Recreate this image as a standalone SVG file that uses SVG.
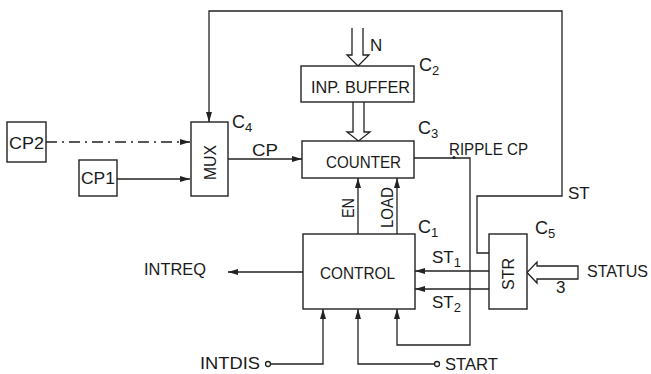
<svg xmlns="http://www.w3.org/2000/svg" width="651" height="374" viewBox="0 0 651 374">
<defs>
<style>
.b{fill:#fff;stroke:#222;stroke-width:1.4}
.l{fill:none;stroke:#222;stroke-width:1.3}
.t{font-family:"Liberation Sans",Arial,sans-serif;font-size:17px;fill:#1a1a1a}
.c{font-size:18px}
.s{font-size:13px}
</style>
<marker id="a" markerWidth="10" markerHeight="6" refX="10" refY="3" orient="auto" markerUnits="userSpaceOnUse">
<path d="M0,0 L10,3 L0,6 Z" fill="#222"/>
</marker>
</defs>
<rect width="651" height="374" fill="#fff"/>

<g id="connectors">
<path class="l" d="M489,253 H477 V196 H562 V11 H209 V122" marker-end="url(#a)"/>
<path class="l" d="M46,142 H190" stroke-dasharray="11,5,2,5" marker-end="url(#a)"/>
<path class="l" d="M117,179 H190" marker-end="url(#a)"/>
<path class="l" d="M228,159 H302" marker-end="url(#a)"/>
<path class="l" d="M352,28 V55 H347 L358,66 L369,55 H363 V28"/>
<path class="l" d="M353,102 V132 H347 L358.5,141 L370,132 H364 V102"/>
<path class="l" d="M414,158 H470 V345 H397 V309" marker-end="url(#a)"/>
<circle cx="454" cy="157.5" r="1.6" fill="#222"/>
<path class="l" d="M358,234 V178" marker-end="url(#a)"/>
<path class="l" d="M397,234 V178" marker-end="url(#a)"/>
<path class="l" d="M303,272 H228" marker-end="url(#a)"/>
<path class="l" d="M489,271 H415" marker-end="url(#a)"/>
<path class="l" d="M489,289 H415" marker-end="url(#a)"/>
<path class="l" d="M270.5,364 H323 V309" marker-end="url(#a)"/>
<circle class="l" cx="268" cy="364" r="2.5"/>
<path class="l" d="M434.5,364 H358 V309" marker-end="url(#a)"/>
<circle class="l" cx="437" cy="364" r="2.5"/>
<path class="l" d="M578,266 H537 V262 L527,272.5 L537,283 V279 H578 Z"/>
</g>

<g id="cp2">
<rect class="b" x="7" y="122" width="39" height="40"/>
<text class="t" x="26.5" y="149" text-anchor="middle" textLength="35" lengthAdjust="spacingAndGlyphs">CP2</text>
</g>
<g id="cp1">
<rect class="b" x="79" y="160" width="38" height="36"/>
<text class="t" x="98" y="184" text-anchor="middle" textLength="34" lengthAdjust="spacingAndGlyphs">CP1</text>
</g>
<g id="mux">
<rect class="b" x="191" y="122" width="37" height="74"/>
<text class="t" transform="translate(216,162.5) rotate(-90)" text-anchor="middle" textLength="35" lengthAdjust="spacingAndGlyphs">MUX</text>
<text class="t c" x="232" y="128">C<tspan class="s" dy="4">4</tspan></text>
</g>
<g id="inp-buffer">
<rect class="b" x="301" y="66" width="113" height="36"/>
<text class="t" x="360.5" y="93" text-anchor="middle" font-size="18" textLength="99" lengthAdjust="spacingAndGlyphs">INP. BUFFER</text>
<text class="t c" x="419" y="71">C<tspan class="s" dy="4">2</tspan></text>
</g>
<g id="counter">
<rect class="b" x="302" y="141" width="112" height="37"/>
<text class="t" x="363.5" y="168" text-anchor="middle" font-size="18" textLength="75" lengthAdjust="spacingAndGlyphs">COUNTER</text>
<text class="t c" x="418" y="134">C<tspan class="s" dy="4">3</tspan></text>
</g>
<g id="control">
<rect class="b" x="303" y="234" width="112" height="75"/>
<text class="t" x="357.5" y="279" text-anchor="middle" font-size="18" textLength="75" lengthAdjust="spacingAndGlyphs">CONTROL</text>
<text class="t c" x="418" y="233">C<tspan class="s" dy="4">1</tspan></text>
</g>
<g id="str">
<rect class="b" x="489" y="234" width="38" height="75"/>
<text class="t" transform="translate(514,274) rotate(-90)" text-anchor="middle" textLength="32" lengthAdjust="spacingAndGlyphs">STR</text>
<text class="t c" x="535" y="234">C<tspan class="s" dy="4">5</tspan></text>
</g>

<g id="labels">
<text class="t" x="370" y="51">N</text>
<text class="t" x="252" y="156" textLength="26" lengthAdjust="spacingAndGlyphs">CP</text>
<text class="t" x="449" y="155" textLength="79" lengthAdjust="spacingAndGlyphs">RIPPLE CP</text>
<text class="t" x="568" y="199">ST</text>
<text class="t" transform="translate(354,208) rotate(-90)" text-anchor="middle" textLength="20" lengthAdjust="spacingAndGlyphs">EN</text>
<text class="t" transform="translate(393,207.5) rotate(-90)" text-anchor="middle" textLength="41" lengthAdjust="spacingAndGlyphs">LOAD</text>
<text class="t" x="144" y="275" textLength="62" lengthAdjust="spacingAndGlyphs">INTREQ</text>
<text class="t" x="432" y="263">ST<tspan class="s" dy="4">1</tspan></text>
<text class="t" x="432" y="308">ST<tspan class="s" dy="4">2</tspan></text>
<text class="t" x="587" y="277" textLength="61" lengthAdjust="spacingAndGlyphs">STATUS</text>
<text class="t" x="556" y="293" font-size="13">3</text>
<text class="t" x="200" y="369" textLength="60" lengthAdjust="spacingAndGlyphs">INTDIS</text>
<text class="t" x="445" y="370" textLength="53" lengthAdjust="spacingAndGlyphs">START</text>
</g>
</svg>
